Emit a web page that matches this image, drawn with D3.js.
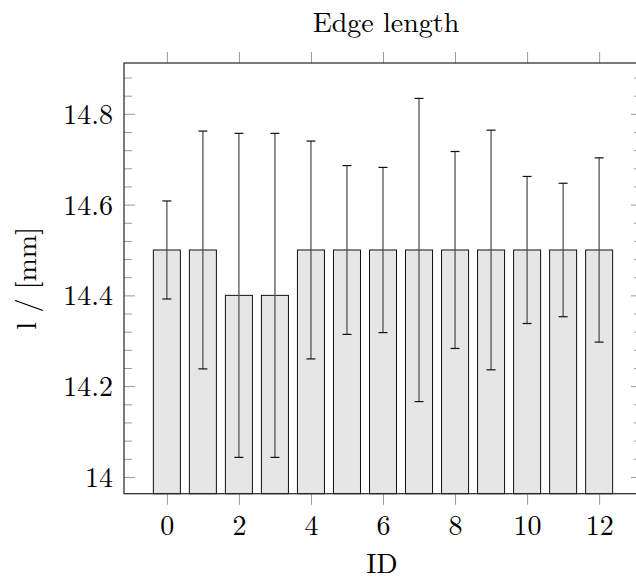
<!DOCTYPE html>
<html>
<head>
<meta charset="utf-8">
<script src="https://cdn.jsdelivr.net/npm/d3@7/dist/d3.min.js"></script>
<style>
  html, body { margin: 0; padding: 0; background: #fff; }
  svg { display: block; }
</style>
</head>
<body>
<script>
// ---- data ----
const ids = [0, 1, 2, 3, 4, 5, 6, 7, 8, 9, 10, 11, 12];
const values = [14.5, 14.5, 14.4, 14.4, 14.5, 14.5, 14.5, 14.5, 14.5, 14.5, 14.5, 14.5, 14.5];
const errors = [0.108, 0.262, 0.357, 0.357, 0.240, 0.186, 0.182, 0.334, 0.217, 0.264, 0.162, 0.147, 0.203];
const xTicks = [0, 2, 4, 6, 8, 10, 12];
const yTicks = [14, 14.2, 14.4, 14.6, 14.8];
const yTickLabels = ["14", "14.2", "14.4", "14.6", "14.8"];
const yMinorTicks = [14.04, 14.08, 14.12, 14.16, 14.24, 14.28, 14.32, 14.36, 14.44, 14.48, 14.52, 14.56, 14.64, 14.68, 14.72, 14.76, 14.84, 14.88];
const title = "Edge length";
const xLabel = "ID";
const yLabel = "l / [mm]";

// ---- layout ----
const W = 636, H = 581;
const L = 124, R = 642, T = 63, B = 493.7;
const FONT = '"Latin Modern Roman", "Liberation Serif", serif';
const FS = "28px";
const x = d3.scaleLinear().domain([-1.19, 13.19]).range([L, R]);
const y = d3.scaleLinear().domain([13.963, 14.912]).range([B, T]);
const barW = 0.75;

const svg = d3.select("body").append("svg").attr("width", W).attr("height", H);

// bars
svg.append("g").selectAll("rect").data(ids).join("rect")
  .attr("x", (d) => x(d - barW / 2))
  .attr("width", x(barW) - x(0))
  .attr("y", (d, i) => y(values[i]))
  .attr("height", (d, i) => y.range()[0] - y(values[i]))
  .attr("fill", "#e6e6e6")
  .attr("stroke", "#111")
  .attr("stroke-width", 1);

// error bars
const eg = svg.append("g");
eg.selectAll("line.v").data(ids).join("line").attr("class", "v")
  .attr("x1", (d) => x(d)).attr("x2", (d) => x(d))
  .attr("y1", (d, i) => y(values[i] + errors[i]))
  .attr("y2", (d, i) => y(values[i] - errors[i]))
  .attr("stroke", "#555").attr("stroke-width", 1.3);
[1, -1].forEach((s) => {
  eg.selectAll("line.c" + (s > 0 ? "t" : "b")).data(ids).join("line").attr("class", "c" + (s > 0 ? "t" : "b"))
    .attr("x1", (d) => x(d) - 4.5).attr("x2", (d) => x(d) + 4.5)
    .attr("y1", (d, i) => y(values[i] + s * errors[i]))
    .attr("y2", (d, i) => y(values[i] + s * errors[i]))
    .attr("stroke", "#111").attr("stroke-width", 1.2);
});

// axes (ticks via d3 axes)
const tickStyle = (g) => {
  g.select(".domain").remove();
  g.selectAll(".tick line").attr("stroke", "#999").attr("stroke-width", 1);
};
const labelStyle = (sel) => sel.style("font-family", FONT).style("font-size", FS).style("fill", "#000");
// bottom: outward ticks with labels
svg.append("g").attr("transform", `translate(0,${B})`)
  .call(d3.axisBottom(x).tickValues(xTicks).tickSize(11).tickPadding(0).tickFormat(d3.format("d")))
  .call(tickStyle)
  .call((g) => g.selectAll(".tick text").attr("dy", null).attr("y", 535 - B).call(labelStyle));
// top: outward ticks, no labels
svg.append("g").attr("transform", `translate(0,${T})`)
  .call(d3.axisTop(x).tickValues(xTicks).tickSize(11).tickFormat(""))
  .call(tickStyle);
// left: inward major ticks with labels
svg.append("g").attr("transform", `translate(${L},0)`)
  .call(d3.axisLeft(y).tickValues(yTicks).tickSize(-11).tickFormat((d, i) => yTickLabels[i]))
  .call(tickStyle)
  .call((g) => g.selectAll(".tick text").attr("x", 113 - L).attr("dy", "0.34em")
    .attr("text-anchor", "end").call(labelStyle));
svg.append("g").attr("transform", `translate(${L},0)`)
  .call(d3.axisLeft(y).tickValues(yMinorTicks).tickSize(-8).tickFormat(""))
  .call(tickStyle);
// right: inward ticks
svg.append("g").attr("transform", `translate(${R},0)`)
  .call(d3.axisRight(y).tickValues(yTicks).tickSize(-11).tickFormat(""))
  .call(tickStyle);
svg.append("g").attr("transform", `translate(${R},0)`)
  .call(d3.axisRight(y).tickValues(yMinorTicks).tickSize(-8).tickFormat(""))
  .call(tickStyle);

// frame
svg.append("rect").attr("x", L).attr("y", T).attr("width", R - L).attr("height", B - T)
  .attr("fill", "none").attr("stroke", "#222").attr("stroke-width", 1.2);

// labels
svg.append("text").attr("x", 386).attr("y", 32).attr("text-anchor", "middle")
  .call(labelStyle).text(title);
svg.append("text").attr("x", 382).attr("y", 573).attr("text-anchor", "middle")
  .call(labelStyle).text(xLabel);
svg.append("text").attr("transform", `translate(36,${(T + B) / 2}) rotate(-90)`)
  .attr("text-anchor", "middle").call(labelStyle).text(yLabel);
</script>
</body>
</html>
